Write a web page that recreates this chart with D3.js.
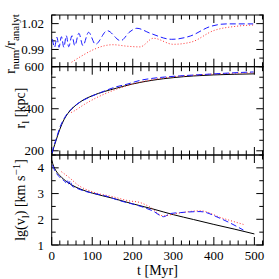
<!DOCTYPE html>
<html>
<head>
<meta charset="utf-8">
<script src="https://cdn.jsdelivr.net/npm/d3@7"></script>
<style>
  body { margin: 0; background: #fff; }
  svg text { font-family: "Liberation Serif", serif; fill: #000; }
</style>
</head>
<body>
<div id="chart"></div>
<script>
// ---- data ----
// top panel: r_num / r_analyt
var ratioBlueT = [2, 7, 13, 18, 24, 30, 36, 42, 50, 57, 67, 77, 91, 108, 137, 170, 193, 210, 243, 296, 342, 391, 432, 497]
var ratioBlueV = [1.002, 0.9925, 1.0041, 0.9925, 1.0048, 0.9925, 1.006, 0.9932, 1.006, 0.9944, 1.0088, 0.9944, 1.0099, 0.996, 1.0118, 1.0002, 1.0106, 1.0146, 1.0088, 1.0018, 1.0056, 1.0166, 1.0197, 1.0197]
var ratioRedT = [49, 151, 188, 218, 251, 300, 345, 399, 457, 498]
var ratioRedV = [0.9752, 0.9955, 0.9937, 0.993, 1.003, 0.996, 0.9987, 1.0118, 1.017, 1.0184]

// middle panel: r_l [kpc]
var rBlackT = [0, 5, 10, 20, 30, 40, 50, 70, 100, 130, 160, 200, 250, 300, 350, 400, 450, 500]
var rBlackV = [180, 215, 245, 302, 347, 378, 400, 432, 462, 482, 498, 518, 536, 548, 556, 561, 564, 566]
var rBlueT = [1, 5, 11, 20, 32, 48, 73, 98, 122, 155, 188, 218, 250, 292, 330, 374, 420, 460, 498]
var rBlueV = [190, 220, 256, 310, 358, 398, 435, 459, 478, 502, 518, 535, 545, 553, 558, 563, 568, 572, 575]
var rRedT = [48, 56, 80, 110, 140, 170, 200, 240, 290, 340, 390, 440, 498]
var rRedV = [382, 390, 420, 452, 478, 500, 518, 535, 550, 558, 564, 568, 571]

// bottom panel: lg(v_l)
var vBlackT = [0, 5, 10, 20, 30, 40, 50, 70, 100, 150, 200, 250, 300, 350, 400, 450, 500]
var vBlackV = [4.3, 4.05, 3.9, 3.7, 3.55, 3.43, 3.33, 3.18, 3.02, 2.82, 2.6, 2.4, 2.18, 1.99, 1.8, 1.62, 1.43]
var vBlueT = [2, 8, 15, 22, 26, 30, 35, 38, 42, 46, 50, 60, 80, 100, 130, 169, 220, 250, 276, 292, 317, 366, 415, 473]
var vBlueV = [4.1, 3.88, 3.72, 3.6, 3.55, 3.5, 3.43, 3.55, 3.38, 3.5, 3.3, 3.22, 3.1, 3.02, 2.92, 2.72, 2.5, 2.32, 2.1, 2.22, 2.26, 2.3, 2.04, 1.58]
var vRedT = [24, 45, 65, 100, 150, 190, 218, 240, 276, 300, 366, 420, 473]
var vRedV = [3.85, 3.6, 3.33, 3.07, 2.88, 2.72, 2.65, 2.5, 2.13, 2.2, 2.33, 2.05, 1.8]

var xTicksMajor = [0, 100, 200, 300, 400, 500]
var ratioTicks = [0.99, 1.02]
var rTicks = [200, 400, 600]
var vTicks = [1, 2, 3, 4]

var width = 279, height = 279
var left = 51.7, right = 263.3

var svg = d3.select("#chart")
  .append("svg")
  .attr("width", width)
  .attr("height", height)

var xScale = d3.scaleLinear().domain([0, 522]).range([left, right])

var panels = [
  { y: d3.scaleLinear().domain([0.97, 1.03]).range([66.7, 15]), major: ratioTicks, minorStep: 0.01, fmt: d3.format(".2f") },
  { y: d3.scaleLinear().domain([180, 600]).range([155, 66.7]), major: rTicks, minorStep: 50, fmt: d3.format("d") },
  { y: d3.scaleLinear().domain([1, 4.5]).range([245, 155]), major: vTicks, minorStep: 0.5, fmt: d3.format("d") }
]

function steps(lo, hi, step) {
  var out = []
  for (var v = Math.ceil(lo / step - 1e-6) * step; v <= hi + 1e-9; v += step) out.push(+v.toFixed(6))
  return out
}

var xMinor = steps(0, 522, 20)

panels.forEach(function(p) {
  var y0 = p.y.range()[0], y1 = p.y.range()[1]
  var g = svg.append("g")

  // x ticks, inward at the top and bottom of the panel
  g.selectAll("line.xt")
    .data(xMinor)
    .enter()
    .append("line")
    .attr("x1", d => xScale(d)).attr("x2", d => xScale(d))
    .attr("y1", y0).attr("y2", d => y0 - (d % 100 === 0 ? 8 : 4.5))
    .attr("stroke", "#000").attr("stroke-width", 1)
  g.selectAll("line.xb")
    .data(xMinor)
    .enter()
    .append("line")
    .attr("x1", d => xScale(d)).attr("x2", d => xScale(d))
    .attr("y1", y1).attr("y2", d => y1 + (d % 100 === 0 ? 8 : 4.5))
    .attr("stroke", "#000").attr("stroke-width", 1)

  // y ticks, inward on both sides
  var yMinor = steps(p.y.domain()[0], p.y.domain()[1], p.minorStep)
  var isMajor = d => p.major.some(m => Math.abs(m - d) < 1e-6)
  ;[[left, 1], [right, -1]].forEach(function(s) {
    g.selectAll(null)
      .data(yMinor)
      .enter()
      .append("line")
      .attr("x1", s[0]).attr("x2", d => s[0] + s[1] * (isMajor(d) ? 7 : 4))
      .attr("y1", d => p.y(d)).attr("y2", d => p.y(d))
      .attr("stroke", "#000").attr("stroke-width", 1)
  })

  g.selectAll("text")
    .data(p.major)
    .enter()
    .append("text")
    .attr("x", 44)
    .attr("y", d => p.y(d))
    .attr("dy", "0.35em")
    .attr("text-anchor", "end")
    .style("font-size", "13px")
    .text(p.fmt)

  g.append("rect")
    .attr("x", left).attr("y", y1)
    .attr("width", right - left).attr("height", y0 - y1)
    .attr("fill", "none").attr("stroke", "#000").attr("stroke-width", 1)
})

function drawLine(yScale, ts, vs, color, dash) {
  var pts = ts.map((t, i) => [t, vs[i]])
  svg.append("path")
    .datum(pts)
    .attr("d", d3.line().x(d => xScale(d[0])).y(d => yScale(d[1])).curve(d3.curveMonotoneX))
    .attr("fill", "none")
    .attr("stroke", color)
    .attr("stroke-width", 1)
    .attr("stroke-dasharray", dash)
}

drawLine(panels[0].y, ratioRedT, ratioRedV, "#ff3030", "1,2")
drawLine(panels[0].y, ratioBlueT, ratioBlueV, "#1a1aff", "6,3")

drawLine(panels[1].y, rBlackT, rBlackV, "#000", null)
drawLine(panels[1].y, rRedT, rRedV, "#ff3030", "1,2")
drawLine(panels[1].y, rBlueT, rBlueV, "#1a1aff", "6,3")

drawLine(panels[2].y, vBlackT, vBlackV, "#000", null)
drawLine(panels[2].y, vRedT, vRedV, "#ff3030", "1,2")
drawLine(panels[2].y, vBlueT, vBlueV, "#1a1aff", "6,3")

// x tick labels and title
svg.selectAll("text.xl")
  .data(xTicksMajor)
  .enter()
  .append("text")
  .attr("x", d => xScale(d))
  .attr("y", 260)
  .attr("text-anchor", "middle")
  .style("font-size", "13px")
  .text(d => d)

svg.append("text")
  .attr("x", (left + right) / 2)
  .attr("y", 275)
  .attr("text-anchor", "middle")
  .style("font-size", "14px")
  .text("t [Myr]")

// rotated y titles with sub/superscripts
function yTitle(x, y, parts) {
  var t = svg.append("text")
    .attr("transform", `translate(${x},${y}) rotate(-90)`)
    .attr("text-anchor", "middle")
    .style("font-size", "14px")
  var shift = 0
  parts.forEach(function(p) {
    var off = p[1] === "sub" ? 3.5 : p[1] === "sup" ? -5 : 0
    t.append("tspan")
      .attr("dy", off - shift)
      .style("font-size", p[1] ? "11px" : "14px")
      .text(p[0])
    shift = off
  })
}

yTitle(15, 44, [["r"], ["num", "sub"], ["/r"], ["analyt", "sub"]])
yTitle(25, 108, [["r"], ["l", "sub"], [" [kpc]"]])
yTitle(25, 200, [["lg(v"], ["l", "sub"], [") [km s"], ["\u22121", "sup"], ["]"]])
</script>
</body>
</html>
